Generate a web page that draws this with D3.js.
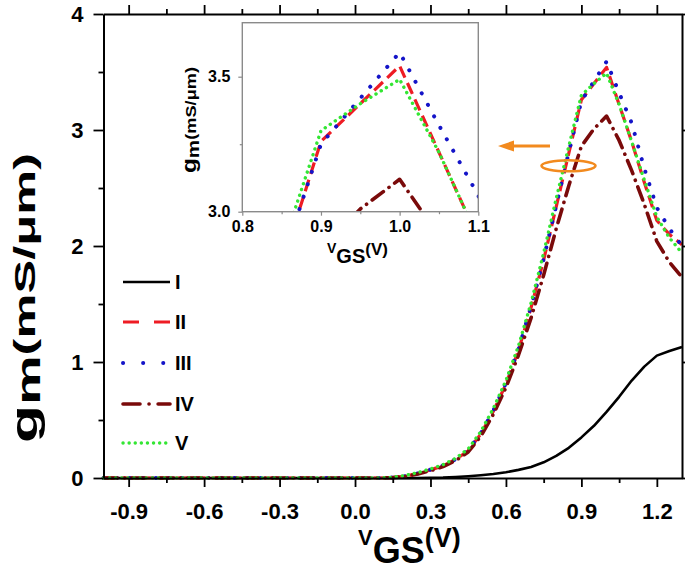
<!DOCTYPE html>
<html>
<head>
<meta charset="utf-8">
<script src="https://cdn.jsdelivr.net/npm/d3@7"></script>
<style>
  html, body { margin: 0; padding: 0; background: #fff; }
  svg { display: block; }
  text { font-family: "Liberation Sans", Arial, sans-serif; font-weight: bold; }
</style>
</head>
<body>
<svg id="chart" width="685" height="575"></svg>
<script>
// ---------------- data ----------------
const vgs = [-1.0,-0.9,-0.8,-0.7,-0.6,-0.5,-0.4,-0.3,-0.2,-0.1,0.0,0.1,
             0.15,0.2,0.25,0.3,0.35,0.4,0.45,0.5,0.55,0.6,0.65,0.7,0.75,0.8,0.85,0.9,0.95,1.0,1.05,1.1,1.15,1.2,1.25,1.3];
const zeros12 = [0,0,0,0,0,0,0,0,0,0,0,0];
const gmI   = zeros12.concat([0,0,0,0.001,0.003,0.008,0.015,0.024,0.035,0.05,0.07,0.095,0.135,0.19,0.26,0.35,0.45,0.57,0.70,0.84,0.96,1.055,1.095,1.13]);
const gmII  = zeros12.concat([0.004,0.015,0.04,0.07,0.105,0.16,0.235,0.38,0.575,0.81,1.10,1.47,1.88,2.34,2.80,3.26,3.40,3.54,3.22,2.90,2.55,2.22,2.10,2.01]);
const gmIII = zeros12.concat([0.004,0.016,0.04,0.072,0.108,0.162,0.24,0.385,0.58,0.82,1.11,1.48,1.89,2.35,2.81,3.25,3.42,3.59,3.32,3.06,2.67,2.33,2.15,2.00]);
const gmIV  = zeros12.concat([0.003,0.013,0.035,0.063,0.098,0.15,0.225,0.36,0.55,0.78,1.06,1.38,1.75,2.15,2.52,2.86,3.01,3.12,2.91,2.65,2.36,2.04,1.86,1.73]);
const gmV   = zeros12.concat([0.006,0.022,0.047,0.078,0.115,0.17,0.25,0.40,0.60,0.84,1.14,1.51,1.94,2.41,2.86,3.30,3.40,3.49,3.22,2.90,2.57,2.25,2.07,1.94]);
const seriesNames = ["I","II","III","IV","V"];
const seriesValues = [gmI, gmII, gmIII, gmIV, gmV];

const xTicks = [-0.9,-0.6,-0.3,0.0,0.3,0.6,0.9,1.2];
const xMinor = [-0.75,-0.45,-0.15,0.15,0.45,0.75,1.05];
const yTicks = [0,1,2,3,4];
const yMinor = [0.5,1.5,2.5,3.5];
const insetXTicks = [0.8,0.9,1.0,1.1];
const insetXMinor = [0.85,0.95,1.05];
const insetYTicks = [3.0,3.5];
const insetYMinor = [3.25];

// ---------------- styles ----------------
const styles = [
  {color:"#000000", width:2.6, dash:null, cap:"butt", legendDash:null},
  {color:"#ee1c24", width:3.2, dash:"12 6", cap:"butt", legendDash:"16 15"},
  {color:"#1414c8", width:4, dash:"0.1 13", cap:"round", legendDash:"0.1 20"},
  {color:"#7a0a0a", width:3.6, dash:"14 7 0.1 7", cap:"round", legendDash:"17 9 0.1 9"},
  {color:"#33e633", width:3.4, dash:"0.1 6", cap:"round", legendDash:"0.1 6"}
];

const svg = d3.select("#chart");
const L = 103.5, R = 682, T = 14, B = 478;
const x = d3.scaleLinear().domain([-1.0, 1.3]).range([L, R]);
const y = d3.scaleLinear().domain([0, 4]).range([B, T]);
const fmt = d => d.toFixed(1);

// ---------------- main curves ----------------
const gCurves = svg.append("g");
seriesValues.forEach((vals, i) => {
  const pts = vgs.map((v, k) => [v, vals[k]]);
  const line = d3.line().x(d => x(d[0])).y(d => y(d[1]));
  gCurves.append("path")
    .attr("d", line(pts))
    .attr("fill", "none")
    .attr("stroke", styles[i].color)
    .attr("stroke-width", styles[i].width)
    .attr("stroke-linecap", styles[i].cap)
    .attr("stroke-linejoin", "round")
    .attr("stroke-dasharray", styles[i].dash);
});

// ---------------- axes ----------------
function styleAxis(g) {
  g.select(".domain").attr("stroke", "#000").attr("stroke-width", 2);
  g.selectAll(".tick line").attr("stroke", "#000").attr("stroke-width", 1.8);
}
const gx = svg.append("g").attr("transform", `translate(0,${B})`)
  .call(d3.axisBottom(x).tickValues(xTicks).tickFormat(fmt).tickSize(9).tickPadding(16).tickSizeOuter(0));
styleAxis(gx);
gx.selectAll(".tick text").attr("font-size", 22).attr("fill", "#000").attr("font-weight", "bold")
  .attr("font-family", '"Liberation Sans", Arial, sans-serif');
svg.append("g").attr("transform", `translate(0,${B})`)
  .call(d3.axisBottom(x).tickValues(xMinor).tickFormat("").tickSize(5).tickSizeOuter(0))
  .call(g => { g.select(".domain").remove(); g.selectAll(".tick line").attr("stroke-width", 1.8); });

const gxt = svg.append("g").attr("transform", `translate(0,${T})`)
  .call(d3.axisTop(x).tickValues(xTicks).tickFormat("").tickSize(9).tickSizeOuter(0));
styleAxis(gxt);
svg.append("g").attr("transform", `translate(0,${T})`)
  .call(d3.axisTop(x).tickValues(xMinor).tickFormat("").tickSize(5).tickSizeOuter(0))
  .call(g => { g.select(".domain").remove(); g.selectAll(".tick line").attr("stroke-width", 1.8); });

const gy = svg.append("g").attr("transform", `translate(${L},0)`)
  .call(d3.axisLeft(y).tickValues(yTicks).tickFormat(d => d.toFixed(0)).tickSize(10).tickPadding(10).tickSizeOuter(0));
styleAxis(gy);
gy.selectAll(".tick text").attr("font-size", 22).attr("fill", "#000").attr("font-weight", "bold")
  .attr("font-family", '"Liberation Sans", Arial, sans-serif');
svg.append("g").attr("transform", `translate(${L},0)`)
  .call(d3.axisLeft(y).tickValues(yMinor).tickFormat("").tickSize(5).tickSizeOuter(0))
  .call(g => { g.select(".domain").remove(); g.selectAll(".tick line").attr("stroke-width", 1.8); });

const gyr = svg.append("g").attr("transform", `translate(${R},0)`)
  .call(d3.axisRight(y).tickValues(yTicks).tickFormat("").tickSize(9).tickSizeOuter(0));
styleAxis(gyr);

// ---------------- axis titles ----------------
const xt = svg.append("text").attr("x", 358).attr("y", 545).attr("fill", "#000");
xt.append("tspan").attr("font-size", 22).text("V");
xt.append("tspan").attr("font-size", 36).attr("dy", 18).text("GS");
xt.append("tspan").attr("font-size", 27).attr("dy", -16).text("(V)");

const yt = svg.append("text").attr("transform", "translate(37,298) rotate(-90)")
  .attr("text-anchor", "middle").attr("fill", "#000")
  .attr("textLength", 290).attr("lengthAdjust", "spacingAndGlyphs");
yt.append("tspan").attr("font-size", 37).text("g");
yt.append("tspan").attr("font-size", 33).attr("dy", 3).text("m");
yt.append("tspan").attr("font-size", 30).attr("dy", -5).text("(mS/\u03BCm)");

// ---------------- legend ----------------
const legY = [282, 322, 363, 404, 443];
seriesNames.forEach((name, i) => {
  svg.append("line")
    .attr("x1", 123).attr("x2", 170).attr("y1", legY[i]).attr("y2", legY[i])
    .attr("stroke", styles[i].color).attr("stroke-width", styles[i].width)
    .attr("stroke-linecap", styles[i].cap)
    .attr("stroke-dasharray", styles[i].legendDash);
  svg.append("text").attr("x", 175).attr("y", legY[i]).attr("dy", "0.36em")
    .attr("font-size", 20).attr("fill", "#000").text(name);
});

// ---------------- arrow & ellipse ----------------
const orange = "#f28a1e";
svg.append("line").attr("x1", 550).attr("x2", 510).attr("y1", 146).attr("y2", 146)
  .attr("stroke", orange).attr("stroke-width", 3);
svg.append("path").attr("d", "M498,146 L514,140.5 L514,151.5 Z").attr("fill", orange);
svg.append("ellipse").attr("cx", 568.5).attr("cy", 165.8).attr("rx", 27).attr("ry", 5.5)
  .attr("fill", "none").attr("stroke", orange).attr("stroke-width", 2.6);

// ---------------- inset ----------------
const iL = 242.3, iR = 478.3, iT = 22.7, iB = 211.7;
const xi = d3.scaleLinear().domain([0.8, 1.1]).range([iL, iR]);
const yi = d3.scaleLinear().domain([3.0, 3.7]).range([iB, iT]);
svg.append("rect").attr("x", iL).attr("y", iT).attr("width", iR - iL).attr("height", iB - iT)
  .attr("fill", "#fff");
svg.append("clipPath").attr("id", "insetClip").append("rect")
  .attr("x", iL).attr("y", iT).attr("width", iR - iL).attr("height", iB - iT);
const gIn = svg.append("g").attr("clip-path", "url(#insetClip)");
seriesValues.forEach((vals, i) => {
  const pts = vgs.map((v, k) => [v, vals[k]]);
  const line = d3.line().x(d => xi(d[0])).y(d => yi(d[1]));
  gIn.append("path")
    .attr("d", line(pts))
    .attr("fill", "none")
    .attr("stroke", styles[i].color)
    .attr("stroke-width", styles[i].width)
    .attr("stroke-linecap", styles[i].cap)
    .attr("stroke-linejoin", "round")
    .attr("stroke-dasharray", styles[i].dash);
});
svg.append("rect").attr("x", iL).attr("y", iT).attr("width", iR - iL).attr("height", iB - iT)
  .attr("fill", "none").attr("stroke", "#8a8a8a").attr("stroke-width", 1.4);

function styleInset(g) {
  g.select(".domain").remove();
  g.selectAll(".tick line").attr("stroke", "#8a8a8a").attr("stroke-width", 1.2);
}
const gix = svg.append("g").attr("transform", `translate(0,${iB})`)
  .call(d3.axisBottom(xi).tickValues(insetXTicks).tickFormat(fmt).tickSize(4).tickPadding(5).tickSizeOuter(0));
styleInset(gix);
gix.selectAll(".tick text").attr("font-size", 16).attr("fill", "#000").attr("font-weight", "bold")
  .attr("font-family", '"Liberation Sans", Arial, sans-serif');
svg.append("g").attr("transform", `translate(0,${iB})`)
  .call(d3.axisBottom(xi).tickValues(insetXMinor).tickFormat("").tickSize(2.5).tickSizeOuter(0))
  .call(styleInset);
const giy = svg.append("g").attr("transform", `translate(${iL},0)`)
  .call(d3.axisLeft(yi).tickValues(insetYTicks).tickFormat(fmt).tickSize(4).tickPadding(8).tickSizeOuter(0));
styleInset(giy);
giy.selectAll(".tick text").attr("font-size", 16).attr("fill", "#000").attr("font-weight", "bold")
  .attr("font-family", '"Liberation Sans", Arial, sans-serif');
svg.append("g").attr("transform", `translate(${iL},0)`)
  .call(d3.axisLeft(yi).tickValues(insetYMinor).tickFormat("").tickSize(2.5).tickSizeOuter(0))
  .call(styleInset);

const ixt = svg.append("text").attr("x", 327).attr("y", 253).attr("fill", "#000");
ixt.append("tspan").attr("font-size", 14).text("V");
ixt.append("tspan").attr("font-size", 20).attr("dy", 10).text("GS");
ixt.append("tspan").attr("font-size", 17).attr("dy", -8).text("(V)");

const iyt = svg.append("text").attr("transform", "translate(196,120) rotate(-90)")
  .attr("text-anchor", "middle").attr("fill", "#000")
  .attr("textLength", 106).attr("lengthAdjust", "spacingAndGlyphs");
iyt.append("tspan").attr("font-size", 20).text("g");
iyt.append("tspan").attr("font-size", 17).attr("dy", 3).text("m");
iyt.append("tspan").attr("font-size", 15).attr("dy", -3).text("(mS/\u03BCm)");
</script>
</body>
</html>
